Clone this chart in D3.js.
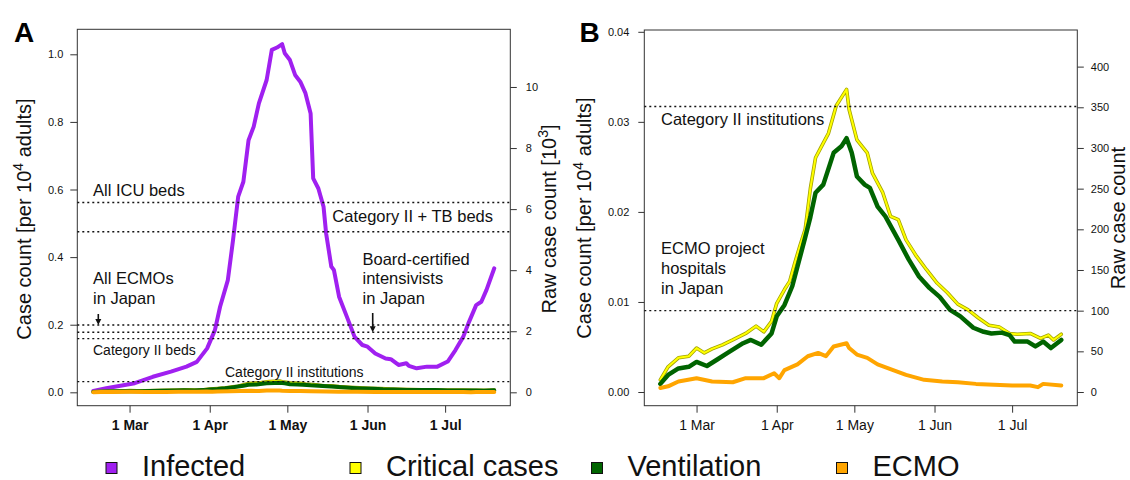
<!DOCTYPE html>
<html>
<head>
<meta charset="utf-8">
<script src="https://cdn.jsdelivr.net/npm/d3@7"></script>
<style>
  body { margin: 0; background: #fff; }
  svg { display: block; font-family: "Liberation Sans", Arial, Helvetica, sans-serif; }
</style>
</head>
<body>
<svg id="chart" width="1130" height="480"></svg>
<script>
// raw cases per 1 unit of "case count per 10^4 adults" (~110.7M adults)
const K = 11070;

// Infected, case count per 10^4 adults
const infected = [
  ["2020-02-16",0.004],["2020-02-21",0.012],["2020-03-03",0.027],["2020-03-10",0.046],
  ["2020-03-17",0.061],["2020-03-23",0.076],["2020-03-27",0.090],["2020-03-31",0.130],
  ["2020-04-03",0.184],["2020-04-05",0.253],["2020-04-08",0.332],["2020-04-10",0.450],
  ["2020-04-12",0.579],["2020-04-14",0.623],["2020-04-16",0.746],["2020-04-18",0.786],
  ["2020-04-20",0.855],["2020-04-23",0.924],["2020-04-25",1.013],["2020-04-27",1.020],
  ["2020-04-29",1.030],["2020-04-30",1.003],["2020-05-02",0.983],["2020-05-04",0.939],
  ["2020-05-06",0.919],["2020-05-08",0.885],["2020-05-10",0.825],["2020-05-11",0.633],
  ["2020-05-13",0.603],["2020-05-15",0.549],["2020-05-16",0.470],["2020-05-18",0.372],
  ["2020-05-19",0.362],["2020-05-21",0.283],["2020-05-24",0.224],["2020-05-27",0.164],
  ["2020-05-30",0.140],["2020-06-01",0.135],["2020-06-04",0.115],["2020-06-08",0.100],
  ["2020-06-10",0.098],["2020-06-13",0.081],["2020-06-16",0.086],["2020-06-17",0.078],
  ["2020-06-20",0.071],["2020-06-24",0.076],["2020-06-28",0.076],["2020-07-02",0.091],
  ["2020-07-05",0.125],["2020-07-08",0.164],["2020-07-10",0.204],["2020-07-13",0.258],
  ["2020-07-15",0.268],["2020-07-17",0.303],["2020-07-20",0.367]
];

// Critical cases, raw count
const critical = [
  ["2020-02-16",15],["2020-02-19",31],["2020-02-23",42],["2020-02-27",44],["2020-03-01",54],
  ["2020-03-04",48],["2020-03-07",53],["2020-03-11",58],["2020-03-15",64],["2020-03-20",72],
  ["2020-03-24",81],["2020-03-27",74],["2020-03-30",87],["2020-04-01",109],["2020-04-04",126],
  ["2020-04-06",136],["2020-04-08",159],["2020-04-10",180],["2020-04-12",200],["2020-04-14",250],
  ["2020-04-16",288],["2020-04-18",300],["2020-04-21",318],["2020-04-24",352],["2020-04-28",372],
  ["2020-04-29",347],["2020-05-02",310],["2020-05-04",302],["2020-05-06",294],["2020-05-08",269],
  ["2020-05-12",245],["2020-05-15",216],["2020-05-18",212],["2020-05-21",187],["2020-05-25",167],
  ["2020-05-29",150],["2020-06-02",134],["2020-06-06",122],["2020-06-10",108],["2020-06-14",101],
  ["2020-06-18",91],["2020-06-22",82],["2020-06-26",80],["2020-06-30",72],["2020-07-03",71],
  ["2020-07-08",72],["2020-07-12",66],["2020-07-15",70],["2020-07-17",64],["2020-07-20",71]
];

// Ventilation, raw count
const ventilation = [
  ["2020-02-16",10],["2020-02-19",21],["2020-02-23",29],["2020-02-27",31],["2020-03-01",37],
  ["2020-03-05",32],["2020-03-09",40],["2020-03-13",48],["2020-03-19",60],["2020-03-22",64],
  ["2020-03-26",58],["2020-03-30",72],["2020-04-01",93],["2020-04-04",107],["2020-04-07",130],
  ["2020-04-09",154],["2020-04-12",190],["2020-04-14",215],["2020-04-16",245],["2020-04-19",255],
  ["2020-04-23",294],["2020-04-26",302],["2020-04-28",312],["2020-04-30",294],["2020-05-02",265],
  ["2020-05-05",255],["2020-05-07",251],["2020-05-10",228],["2020-05-13",216],["2020-05-18",187],
  ["2020-05-22",163],["2020-05-26",142],["2020-05-30",128],["2020-06-03",117],["2020-06-07",101],
  ["2020-06-11",93],["2020-06-16",79],["2020-06-20",74],["2020-06-23",72],["2020-06-27",73],
  ["2020-06-30",70],["2020-07-02",62],["2020-07-07",62],["2020-07-10",56],["2020-07-13",62],
  ["2020-07-16",54],["2020-07-20",64]
];

// ECMO, raw count
const ecmo = [
  ["2020-02-16",5],["2020-02-19",7],["2020-02-23",13],["2020-03-01",17],["2020-03-07",13],
  ["2020-03-15",12],["2020-03-20",17],["2020-03-27",17],["2020-03-31",23],["2020-04-02",17],
  ["2020-04-04",27],["2020-04-09",34],["2020-04-13",44],["2020-04-17",48],["2020-04-20",44],
  ["2020-04-23",56],["2020-04-28",60],["2020-04-29",54],["2020-05-02",46],["2020-05-06",42],
  ["2020-05-10",34],["2020-05-16",27],["2020-05-21",21],["2020-05-28",15],["2020-06-04",13],
  ["2020-06-10",12],["2020-06-17",10],["2020-06-24",9],["2020-07-01",8],["2020-07-08",8],
  ["2020-07-11",6],["2020-07-13",10],["2020-07-20",8]
];

// capacity lines, raw count
const capacityA = [6216, 5260, 2207, 1967, 1758, 351];
const capacityB = [351, 100];

const tickDates = ["2020-03-01","2020-04-01","2020-05-01","2020-06-01","2020-07-01"];
const tickLabels = ["1 Mar","1 Apr","1 May","1 Jun","1 Jul"];
const leftTicksA = [0, 0.2, 0.4, 0.6, 0.8, 1.0];
const rightTicksA = [0, 2, 4, 6, 8, 10];          // 10^3
const leftTicksB = [0, 0.01, 0.02, 0.03, 0.04];
const rightTicksB = [0, 50, 100, 150, 200, 250, 300, 350, 400];

const legendLabels = ["Infected", "Critical cases", "Ventilation", "ECMO"];
const colors = { infected: "#a020f0", critical: "#ffff00", ventilation: "#006400", ecmo: "#ffa500" };

const parse = d3.timeParse("%Y-%m-%d");
const svg = d3.select("#chart");
svg.append("rect").attr("width", 1130).attr("height", 480).attr("fill", "#fff");

const first = parse(infected[0][0]), last = parse(infected[infected.length - 1][0]);
const pad = (last - first) * 0.04;
const xDomain = [new Date(+first - pad), new Date(+last + pad)];

function panel(cfg) {
  const p = {};
  p.x = d3.scaleTime().domain(xDomain).range([cfg.left, cfg.right]);
  p.y = d3.scaleLinear().domain(cfg.yDomain).range([cfg.bottom, cfg.top]);
  p.yr = d3.scaleLinear().domain(cfg.yDomain.map(v => v * cfg.factor)).range([cfg.bottom, cfg.top]);
  p.g = svg.append("g");

  // axes
  const xa = p.g.append("g").attr("transform", `translate(0,${cfg.bottom})`)
    .call(d3.axisBottom(p.x).tickValues(tickDates.map(parse))
      .tickFormat((d, i) => tickLabels[i]).tickSize(7).tickPadding(7).tickSizeOuter(0));
  xa.selectAll("text").attr("font-size", 14).attr("font-weight", cfg.boldX ? "bold" : "normal");

  const la = p.g.append("g").attr("transform", `translate(${cfg.left},0)`)
    .call(d3.axisLeft(p.y).tickValues(cfg.leftTicks).tickFormat(d3.format(cfg.leftFmt))
      .tickSize(cfg.tickL).tickPadding(cfg.padL).tickSizeOuter(0));
  la.selectAll("text").attr("font-size", 11);

  const ra = p.g.append("g").attr("transform", `translate(${cfg.right},0)`)
    .call(d3.axisRight(p.yr).tickValues(cfg.rightTicks).tickFormat(d3.format("d"))
      .tickSize(6.5).tickPadding(cfg.padR).tickSizeOuter(0));
  ra.selectAll("text").attr("font-size", 11);

  p.g.selectAll(".domain").remove();
  p.g.selectAll(".tick line").attr("stroke", "#333");
  p.g.selectAll(".tick text").attr("fill", "#111").attr("font-family", "Liberation Sans, Arial, sans-serif");

  p.g.append("rect")
    .attr("x", cfg.left).attr("y", cfg.top)
    .attr("width", cfg.right - cfg.left).attr("height", cfg.bottom - cfg.top)
    .attr("fill", "none").attr("stroke", "#333").attr("stroke-width", 1);
  return p;
}

const A = panel({ left: 77.3, right: 510.3, top: 29.3, bottom: 405.7, yDomain: [-0.0396, 1.074],
  factor: K / 1000, leftTicks: leftTicksA, rightTicks: rightTicksA, leftFmt: ".1f",
  tickL: 7, padL: 7, padR: 9, boldX: true });
const B = panel({ left: 644.3, right: 1077.3, top: 30, bottom: 405.7, yDomain: [-0.00152, 0.0402],
  factor: K, leftTicks: leftTicksB, rightTicks: rightTicksB, leftFmt: ".2f",
  tickL: 6, padL: 9, padR: 7, boldX: false });

function drawSeries(p, data, yFn, color, width) {
  const line = d3.line().x(d => p.x(parse(d[0]))).y(yFn);
  if (color === colors.critical) {
    p.g.append("path").datum(data).attr("d", line).attr("fill", "none")
      .attr("stroke", "#a3a300").attr("stroke-width", width + 1.6)
      .attr("stroke-linejoin", "round").attr("stroke-linecap", "round");
  }
  p.g.append("path").datum(data).attr("d", line).attr("fill", "none")
    .attr("stroke", color).attr("stroke-width", width)
    .attr("stroke-linejoin", "round").attr("stroke-linecap", "round");
}

// Panel A: everything on the per-10^4 scale
drawSeries(A, infected, d => A.y(d[1]), colors.infected, 4);
drawSeries(A, critical, d => A.y(d[1] / K), colors.critical, 2);
drawSeries(A, ventilation, d => A.y(d[1] / K), colors.ventilation, 4);
drawSeries(A, ecmo, d => A.y(d[1] / K), colors.ecmo, 4);

// Panel B
drawSeries(B, critical, d => B.yr(d[1]), colors.critical, 2);
drawSeries(B, ventilation, d => B.yr(d[1]), colors.ventilation, 4.5);
drawSeries(B, ecmo, d => B.yr(d[1]), colors.ecmo, 4);

function capacityLines(p, vals, unit) {
  p.g.selectAll(null).data(vals).join("line")
    .attr("x1", p.x.range()[0]).attr("x2", p.x.range()[1])
    .attr("y1", d => p.yr(d / unit)).attr("y2", d => p.yr(d / unit))
    .attr("stroke", "#111").attr("stroke-width", 1.4).attr("stroke-dasharray", "2,3");
}
capacityLines(A, capacityA, 1000);
capacityLines(B, capacityB, 1);

// annotations
function note(lines, x, y, opts = {}) {
  const t = svg.append("text").attr("x", x).attr("y", y)
    .attr("font-size", opts.size || 16.5).attr("fill", "#111")
    .attr("text-anchor", opts.anchor || "start");
  lines.forEach((s, i) => t.append("tspan").attr("x", x).attr("dy", i ? (opts.lh || 19.5) : 0).text(s));
}
note(["All ICU beds"], 93, 196);
note(["Category II + TB beds"], 493, 222, { anchor: "end" });
note(["All ECMOs", "in Japan"], 93, 283.5, { lh: 20 });
note(["Board-certified", "intensivists", "in Japan"], 362.5, 264.5, { lh: 19.5 });
note(["Category II beds"], 93, 355, { size: 14 });
note(["Category II institutions"], 363.5, 376.5, { size: 14, anchor: "end" });
note(["Category II institutions"], 661, 125);
note(["ECMO project", "hospitals", "in Japan"], 661, 253.5, { lh: 20 });

function arrow(x, y0, y1) {
  svg.append("line").attr("x1", x).attr("x2", x).attr("y1", y0).attr("y2", y1 - 4)
    .attr("stroke", "#111").attr("stroke-width", 1.6);
  svg.append("path").attr("d", `M${x - 3},${y1 - 6}L${x + 3},${y1 - 6}L${x},${y1}Z`).attr("fill", "#111");
}
arrow(98.3, 314, A.yr(capacityA[2] / 1000));
arrow(372.7, 313, A.yr(capacityA[3] / 1000));

// axis titles
function yTitle(x, y, main, sup, tail) {
  const t = svg.append("text").attr("transform", `translate(${x},${y}) rotate(-90)`)
    .attr("text-anchor", "middle").attr("font-size", 20).attr("fill", "#111");
  t.append("tspan").text(main);
  if (sup) {
    t.append("tspan").attr("dy", -8).attr("font-size", 14).text(sup);
    t.append("tspan").attr("dy", 8).text(tail);
  }
}
yTitle(30.5, 219, "Case count [per 10", "4", " adults]");
yTitle(556, 219, "Raw case count [10", "3", "]");
yTitle(590.5, 218, "Case count [per 10", "4", " adults]");
yTitle(1125, 218, "Raw case count");

// panel letters
svg.append("text").attr("x", 14).attr("y", 41.5).attr("font-size", 28).attr("font-weight", "bold").text("A");
svg.append("text").attr("x", 579.5).attr("y", 41.5).attr("font-size", 28).attr("font-weight", "bold").text("B");

// legend
const legendX = [106, 350, 591.5, 836.5];
const legendColors = [colors.infected, colors.critical, colors.ventilation, colors.ecmo];
const lg = svg.append("g");
legendLabels.forEach((lab, i) => {
  lg.append("rect").attr("x", legendX[i]).attr("y", 462.5).attr("width", 11).attr("height", 11)
    .attr("fill", legendColors[i]).attr("stroke", "#111").attr("stroke-width", 1);
  lg.append("text").attr("x", legendX[i] + 36).attr("y", 475.5)
    .attr("font-size", 29).attr("fill", "#111").text(lab);
});
</script>
</body>
</html>
